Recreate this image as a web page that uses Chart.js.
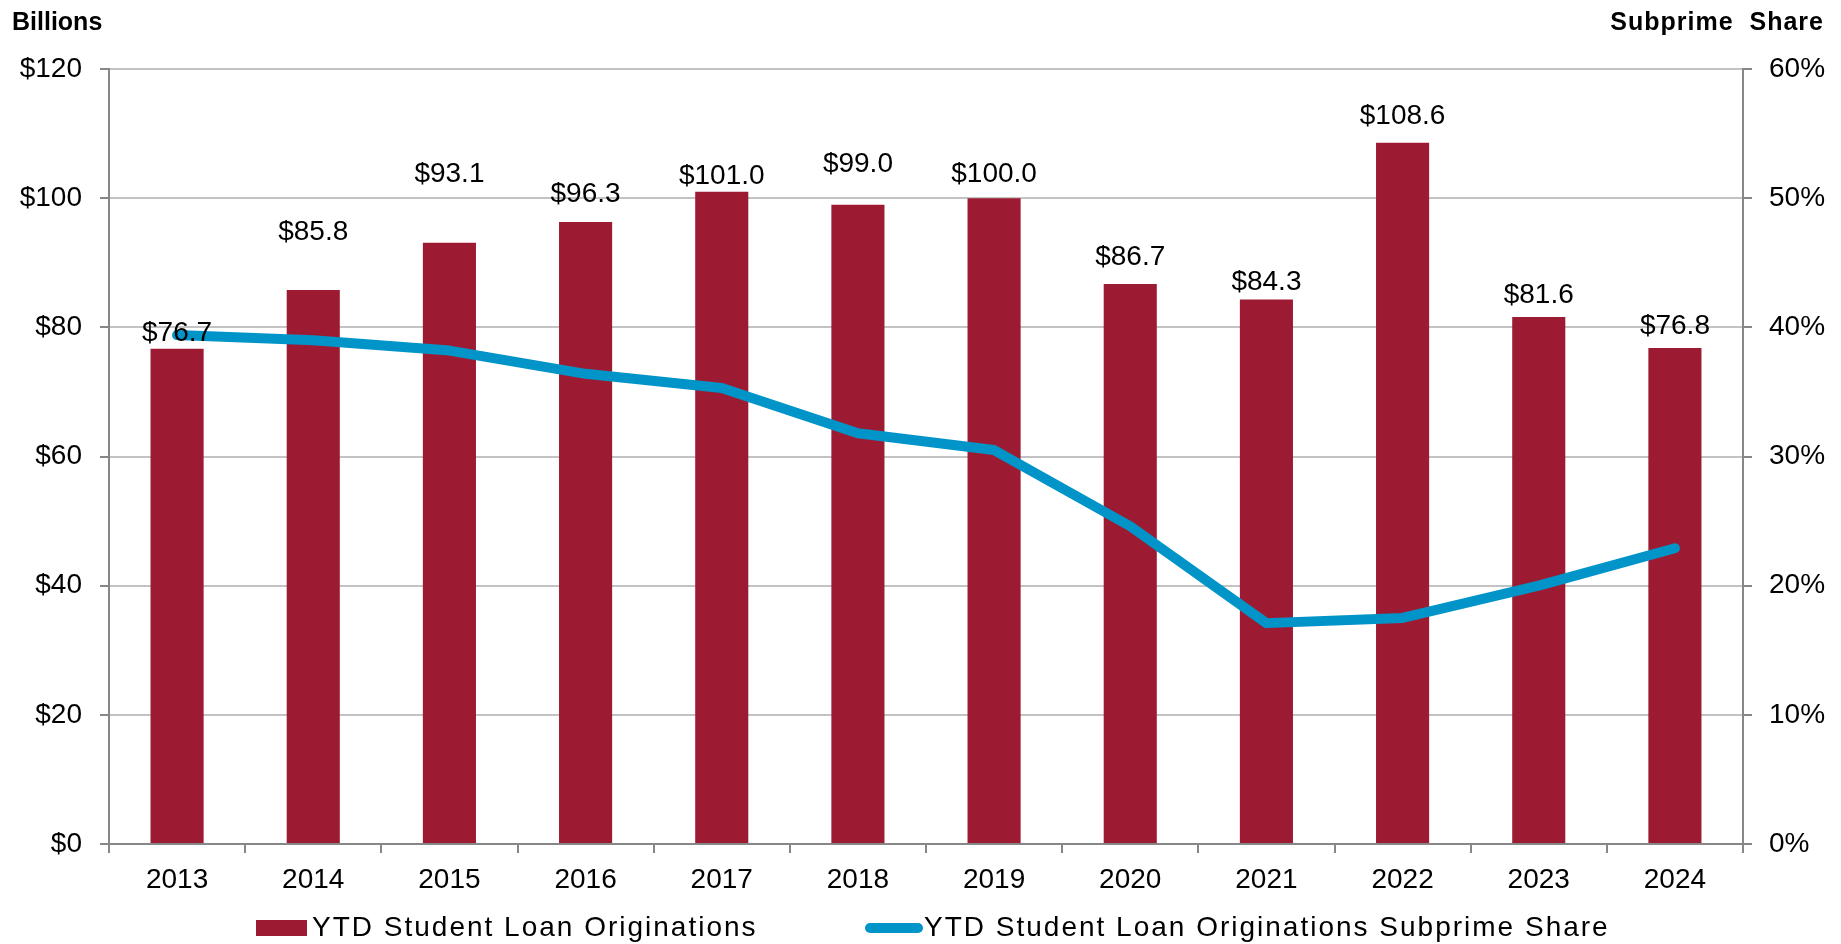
<!DOCTYPE html>
<html>
<head>
<meta charset="utf-8">
<script src="https://cdn.jsdelivr.net/npm/chart.js@4.4.1/dist/chart.umd.min.js"></script>
<style>
  html, body { margin: 0; padding: 0; background: #fff; }
  #wrap { position: relative; width: 1841px; height: 944px; }
  #wrap canvas { position: absolute; left: 0; top: 0; }
  .axis-title {
    position: absolute; top: 7px; line-height: 25px;
    font: bold 25px "Liberation Sans", Arial, sans-serif;
    white-space: pre; color: #000;
  }
</style>
</head>
<body>
<div id="wrap">
  <canvas id="chart" width="1841" height="944"></canvas>
  <div class="axis-title" style="left:12px">Billions</div>
  <div class="axis-title" style="right:17px; letter-spacing:1px">Subprime  Share</div>
</div>
<script>
// Year-to-date student loan originations (billions of dollars) and subprime share (%)
const years = ['2013', '2014', '2015', '2016', '2017', '2018', '2019', '2020', '2021', '2022', '2023', '2024'];
const originations = [76.7, 85.8, 93.1, 96.3, 101.0, 99.0, 100.0, 86.7, 84.3, 108.6, 81.6, 76.8];
const subprimeShare = [39.4, 39.0, 38.2, 36.4, 35.3, 31.8, 30.5, 24.6, 17.1, 17.5, 20.0, 22.9];
const billionsTicks = [0, 20, 40, 60, 80, 100, 120];
const shareTicks = [0, 10, 20, 30, 40, 50, 60];
const seriesNames = ['YTD Student Loan Originations', 'YTD Student Loan Originations Subprime Share'];

// Styling
const BAR_COLOR = '#9D1B32';
const LINE_COLOR = '#0094C8';
const AXIS_COLOR = '#878787';
const GRID_COLOR = '#C3C3C3';
const FONT = '"Liberation Sans", Arial, sans-serif';
const FONT_SIZE = 28;
// how far each value label sits above its bar top (px)
const labelLift = [8, 50, 61, 20, 8, 33, 16, 19, 10, 19, 14, 14];

Chart.defaults.font.family = FONT;
Chart.defaults.font.size = FONT_SIZE;
Chart.defaults.color = '#000';

const valueLabels = {
  id: 'valueLabels',
  afterDatasetsDraw(chart) {
    const ctx = chart.ctx;
    const barIndex = chart.data.datasets.findIndex(d => d.type === 'bar');
    const meta = chart.getDatasetMeta(barIndex);
    ctx.save();
    ctx.font = FONT_SIZE + 'px ' + FONT;
    ctx.fillStyle = '#000';
    ctx.textAlign = 'center';
    ctx.textBaseline = 'alphabetic';
    meta.data.forEach((bar, i) => {
      ctx.fillText('$' + originations[i].toFixed(1), bar.x, bar.y - labelLift[i]);
    });
    ctx.restore();
  }
};

const bottomLegend = {
  id: 'bottomLegend',
  afterDraw(chart) {
    const ctx = chart.ctx;
    const y = 928;
    ctx.save();
    ctx.font = FONT_SIZE + 'px ' + FONT;
    ctx.letterSpacing = '2px';
    ctx.textBaseline = 'middle';
    ctx.textAlign = 'left';
    // bar swatch
    ctx.fillStyle = BAR_COLOR;
    ctx.fillRect(256, y - 8, 51, 16);
    ctx.fillStyle = '#000';
    ctx.fillText(seriesNames[0], 312, y);
    // line swatch
    ctx.strokeStyle = LINE_COLOR;
    ctx.lineWidth = 10;
    ctx.lineCap = 'round';
    ctx.beginPath();
    ctx.moveTo(870, y);
    ctx.lineTo(918, y);
    ctx.stroke();
    ctx.fillText(seriesNames[1], 924, y);
    ctx.restore();
  }
};

new Chart(document.getElementById('chart'), {
  data: {
    labels: years,
    datasets: [
      {
        type: 'line',
        label: seriesNames[1],
        data: subprimeShare,
        yAxisID: 'y1',
        borderColor: LINE_COLOR,
        backgroundColor: LINE_COLOR,
        borderWidth: 10,
        borderCapStyle: 'round',
        borderJoinStyle: 'round',
        pointRadius: 0,
        tension: 0,
        order: 0
      },
      {
        type: 'bar',
        label: seriesNames[0],
        data: originations,
        yAxisID: 'y',
        backgroundColor: BAR_COLOR,
        barPercentage: 0.39,
        categoryPercentage: 1.0,
        order: 1
      }
    ]
  },
  options: {
    responsive: false,
    animation: false,
    devicePixelRatio: 1,
    layout: { padding: { top: 69, right: 0, bottom: 0, left: 0 } },
    plugins: {
      legend: { display: false },
      tooltip: { enabled: false },
      title: { display: false }
    },
    scales: {
      x: {
        offset: true,
        grid: { offset: true, drawOnChartArea: false, tickLength: 9, tickColor: AXIS_COLOR, lineWidth: 2 },
        border: { color: AXIS_COLOR, width: 2 },
        ticks: { padding: 10, maxRotation: 0, autoSkip: false, color: '#000' },
        afterFit(s) { s.height = 100; }
      },
      y: {
        position: 'left',
        min: billionsTicks[0],
        max: billionsTicks[billionsTicks.length - 1],
        afterBuildTicks(s) { s.ticks = billionsTicks.map(v => ({ value: v })); },
        ticks: { padding: 18, color: '#000', callback: v => '$' + v },
        grid: { color: GRID_COLOR, lineWidth: 2, tickLength: 9, tickColor: AXIS_COLOR },
        border: { color: AXIS_COLOR, width: 2 },
        afterFit(s) { s.width = 109; }
      },
      y1: {
        position: 'right',
        min: shareTicks[0],
        max: shareTicks[shareTicks.length - 1],
        afterBuildTicks(s) { s.ticks = shareTicks.map(v => ({ value: v })); },
        ticks: { padding: 17, color: '#000', callback: v => v + '%' },
        grid: { drawOnChartArea: false, lineWidth: 2, tickLength: 9, tickColor: AXIS_COLOR },
        border: { color: AXIS_COLOR, width: 2 },
        afterFit(s) { s.width = 98; }
      }
    }
  },
  plugins: [valueLabels, bottomLegend]
});
</script>
</body>
</html>
